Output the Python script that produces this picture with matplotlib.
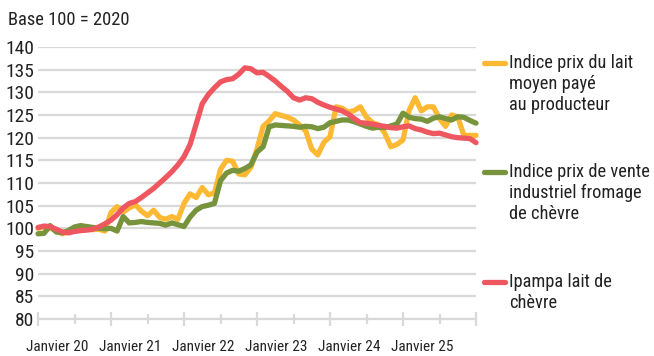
import numpy as np
import matplotlib
matplotlib.use("Agg")
import matplotlib.pyplot as plt
from matplotlib import font_manager
from matplotlib.font_manager import FontProperties
from matplotlib.lines import Line2D
from matplotlib.transforms import blended_transform_factory

# monthly index values, Jan 2020 (0) to Jan 2026 (72)
months = np.arange(73)

lait_producteur = [
    100.0, 100.3, 100.0, 99.5, 98.8, 99.2, 100.0, 100.2, 99.8, 99.7, 99.8, 99.4,
    103.5, 104.8, 103.6, 104.5, 105.2, 103.8, 102.8, 104.0, 102.4, 102.0, 102.6, 102.0,
    105.5, 107.6, 106.8, 109.0, 107.4, 107.8, 113.0, 115.0, 114.8, 112.0, 111.8, 113.5,
    117.5, 122.5, 123.7, 125.3, 124.9, 124.5, 123.9, 122.8, 121.5, 117.5, 116.2, 119.0,
    120.2, 126.8, 126.5, 125.6, 126.0, 126.8, 124.5, 123.3, 122.8, 121.0, 118.0, 118.5,
    119.5, 126.0, 128.8, 125.9, 126.8, 126.8, 124.2, 122.5, 125.0, 124.6, 120.5, 120.5,
    120.5,
]

fromage_industriel = [
    98.8, 98.9, 100.6, 99.2, 99.0, 99.5, 100.3, 100.6, 100.4, 100.2, 100.0, 99.9,
    100.0, 99.4, 102.6, 101.2, 101.3, 101.5, 101.3, 101.2, 101.1, 100.7, 101.2, 100.8,
    100.4, 102.5, 104.0, 104.8, 105.1, 105.5, 110.5, 112.2, 112.8, 112.6, 113.2, 114.0,
    116.8, 118.0, 122.4, 122.8, 122.7, 122.6, 122.5, 122.3, 122.5, 122.4, 122.0, 122.3,
    123.3, 123.6, 123.9, 123.9, 123.5, 123.0, 122.5, 122.1, 122.3, 122.2, 122.6, 123.0,
    125.4, 124.5, 124.2, 124.1, 123.6, 124.3, 124.6, 124.2, 123.9, 124.6, 124.5, 123.8,
    123.2,
]

ipampa = [
    100.2, 100.5, 100.4, 99.8, 99.2, 99.0, 99.3, 99.5, 99.6, 99.8, 100.3, 101.0,
    101.8, 103.0, 104.5, 105.5, 105.9, 106.8, 107.8, 108.8, 110.0, 111.2, 112.5, 114.0,
    115.8, 118.5, 123.0, 127.5, 129.5, 131.0, 132.3, 132.8, 133.0, 134.0, 135.4, 135.2,
    134.3, 134.4, 133.5, 132.5, 131.3, 130.2, 128.8, 128.3, 128.8, 128.6, 127.8, 127.2,
    126.7, 126.3, 125.9, 125.2, 124.2, 123.3, 123.2, 123.0, 122.7, 122.5, 122.2, 122.1,
    122.4, 122.6, 122.0, 121.7, 121.2, 120.9, 121.0, 120.6, 120.2, 120.0, 119.9, 119.8,
    118.9,
]

series_labels = [
    "Indice prix du lait\nmoyen payé\nau producteur",
    "Indice prix de vente\nindustriel fromage\nde chèvre",
    "Ipampa lait de\nchèvre",
]
year_labels = ["Janvier 20", "Janvier 21", "Janvier 22",
               "Janvier 23", "Janvier 24", "Janvier 25"]

colors = ["#FDB933", "#77933C", "#EF5760"]
grid_color = "#D9D9D9"
text_color = "#222222"


def narrow(size):
    # Liberation Sans Narrow is registered as "Liberation Sans" (condensed),
    # so pick its file directly; fall back to Roboto Condensed
    for f in font_manager.fontManager.ttflist:
        if (f.name == "Liberation Sans" and f.stretch == "condensed"
                and f.style == "normal" and f.weight in (400, "normal", "regular")):
            return FontProperties(fname=f.fname, size=size)
    return FontProperties(family=["Roboto Condensed", "DejaVu Sans"], size=size)


W, H = 654, 356
fig = plt.figure(figsize=(W / 100, H / 100), dpi=100)
ax = fig.add_axes([38 / W, 1 - 319 / H, (476 - 38) / W, (319 - 47) / H])

for data, c in zip([lait_producteur, fromage_industriel, ipampa], colors):
    ax.plot(months, data, color=c, lw=3.8, solid_capstyle="round",
            solid_joinstyle="round", clip_on=False, zorder=3)

ax.set_xlim(0, 72)
ax.set_ylim(80, 140)
ax.set_yticks(np.arange(80, 141, 5))
ax.yaxis.grid(True, color=grid_color, lw=1.6)
ax.set_axisbelow(True)
for side in ["left", "right", "top"]:
    ax.spines[side].set_visible(False)
ax.spines["bottom"].set_color(grid_color)
ax.spines["bottom"].set_linewidth(1.6)

ax.tick_params(axis="y", length=0, pad=3, labelcolor=text_color)
for lbl in ax.get_yticklabels():
    lbl.set_fontproperties(narrow(14))

ax.set_xticks(np.arange(0, 73, 12))
ax.set_xticks(np.arange(6, 73, 12), minor=True)
ax.set_xticklabels([])
ax.tick_params(axis="x", which="major", direction="inout", length=10,
               width=1.6, color=grid_color)
ax.tick_params(axis="x", which="minor", direction="inout", length=7,
               width=1.6, color=grid_color)

trans = blended_transform_factory(ax.transData, ax.transAxes)
for i, lab in enumerate(year_labels):
    ax.text(12 * i + 3.2, -28 / 272, lab, transform=trans, ha="center",
            va="center", fontproperties=narrow(11), color=text_color)

fig.text(8 / W, 1 - 20 / H, "Base 100 = 2020", ha="left", va="center",
         fontproperties=narrow(13.3), color=text_color)

# legend drawn by hand, handle beside the first line of each label
legend_y = [63, 172, 282]
for lab, c, y0 in zip(series_labels, colors, legend_y):
    fig.add_artist(Line2D([484 / W, 505 / W], [1 - y0 / H, 1 - y0 / H],
                          color=c, lw=3.8, solid_capstyle="round"))
    for j, line in enumerate(lab.split("\n")):
        fig.text(509 / W, 1 - (y0 + 21 * j) / H, line, ha="left",
                 va="center", fontproperties=narrow(13.2), color=text_color)

fig.savefig("out.png", dpi=100)
